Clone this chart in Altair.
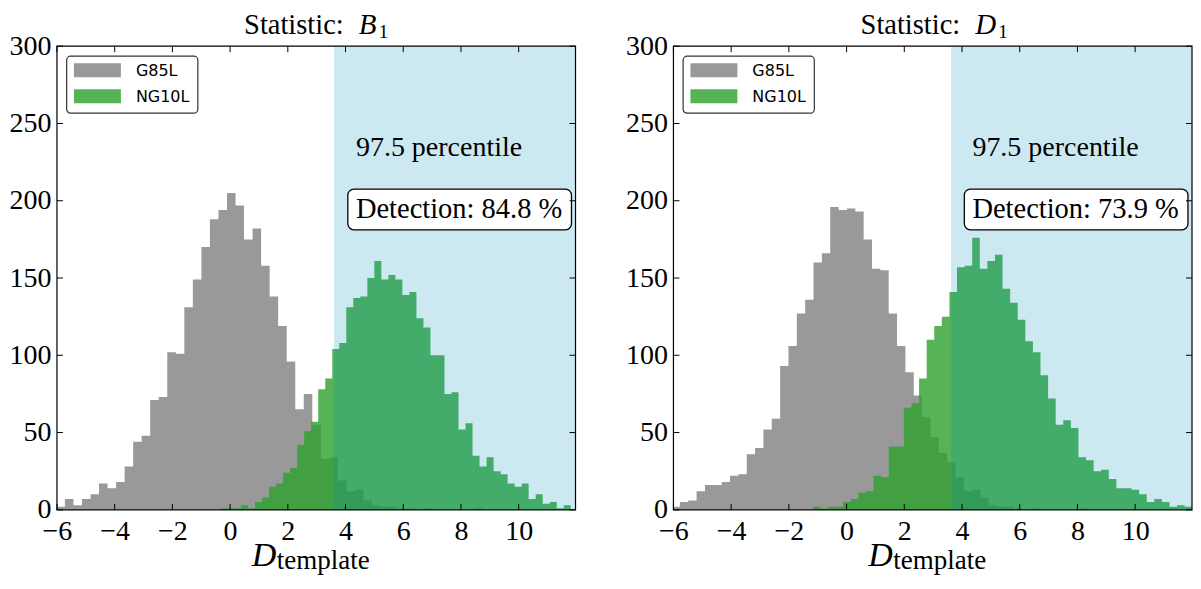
import altair as alt
import pandas as pd

# ---------------- data ----------------
series_names = ["G85L", "NG10L"]
panel_symbols = ["B", "D"]
detection_texts = ["Detection: 84.8 %", "Detection: 73.9 %"]
percentile_cuts = [3.60, 3.62]

# histogram counts, 50 bins each
g85l_B = [2, 7, 3, 7, 10, 17, 14, 18, 28, 44, 48, 71, 73, 102, 101, 131, 149, 170, 188, 194,
          205, 197, 175, 182, 158, 138, 119, 96, 65, 75, 55, 33, 34, 19, 12, 13, 6, 3, 2, 2,
          1, 1, 0, 1, 0, 0, 0, 0, 0, 1]
ng10l_B = [1, 1, 1, 3, 1, 5, 8, 15, 17, 24, 27, 42, 51, 57, 78, 85, 104, 108, 131, 137,
           138, 150, 161, 149, 152, 149, 139, 141, 124, 118, 100, 100, 75, 76, 52, 56, 35, 28, 34, 25,
           23, 17, 15, 17, 7, 10, 4, 5, 1, 3]
g85l_D = [2, 5, 6, 12, 16, 16, 18, 22, 23, 36, 40, 52, 59, 93, 106, 127, 136, 160, 166, 196,
          194, 195, 193, 175, 156, 155, 127, 106, 89, 74, 60, 47, 37, 31, 21, 12, 13, 8, 3, 2,
          2, 1, 0, 1, 0, 0, 0, 0, 0, 1]
ng10l_D = [2, 1, 2, 2, 5, 7, 11, 12, 22, 21, 41, 41, 66, 69, 85, 110, 119, 125, 141, 157,
           158, 176, 156, 161, 165, 143, 134, 123, 109, 102, 87, 72, 55, 58, 53, 34, 32, 25, 26, 20,
           14, 14, 13, 10, 5, 7, 5, 2, 3, 2]
# bin layout of each histogram: first edge, bin width
bins_g85l_B = (-6.02, 0.2956)
bins_ng10l_B = (-0.35, 0.2431)
bins_g85l_D = (-6.065, 0.2894)
bins_ng10l_D = (-1.17, 0.263)

x_ticks = [-6, -4, -2, 0, 2, 4, 6, 8, 10]
y_ticks = [0, 50, 100, 150, 200, 250, 300]

# ---------------- styling ----------------
W, H = 519, 464
XDOM = [-6.0, 11.97]
YDOM = [0, 300]
SERIF = "Liberation Serif"
SANS = "DejaVu Sans"
COLORS = {"G85L": "#808080", "NG10L": "#2ca02c"}
SPAN_COLOR = "#0091be"
SUB_X = {"B": 322, "D": 325}

xscale = alt.Scale(domain=XDOM, nice=False, zero=False)
yscale = alt.Scale(domain=YDOM, nice=False, zero=False)
xaxis = alt.Axis(values=x_ticks, title=None, ticks=False, domain=False, grid=False,
                 labelFont=SERIF, labelFontSize=28, labelPadding=8, labelColor="black",
                 labelFlush=False, labelOverlap=False)
yaxis = alt.Axis(values=y_ticks, title=None, ticks=False, domain=False, grid=False,
                 labelFont=SERIF, labelFontSize=28, labelPadding=6, labelColor="black",
                 labelFlush=False, labelOverlap=False)

one = pd.DataFrame({"k": [0]})


def hist_frame(counts, layout, name):
    first, width = layout
    edges = [first + i * width for i in range(len(counts) + 1)]
    return pd.DataFrame({"edge": edges, "count": list(counts) + [counts[-1]], "series": name})


def step_area(df, name):
    return alt.Chart(df).mark_area(interpolate="step-after", clip=True, opacity=0.8,
                                   color=COLORS[name]).encode(
        x=alt.X("edge:Q", scale=xscale, axis=xaxis),
        y=alt.Y("count:Q", scale=yscale, axis=yaxis),
    )


def label(text, x, y, size, align="left", style="normal", font=SERIF):
    return alt.Chart(one).mark_text(text=text, font=font, fontSize=size, align=align,
                                    baseline="alphabetic", fontStyle=style, color="black").encode(
        x=alt.value(x), y=alt.value(y))


def panel(gray, gray_bins, green, green_bins, symbol, det_text, cut):
    layers = []
    layers.append(step_area(hist_frame(gray, gray_bins, "G85L"), "G85L"))
    layers.append(step_area(hist_frame(green, green_bins, "NG10L"), "NG10L"))

    span = pd.DataFrame({"lo": [cut], "hi": [XDOM[1]]})
    layers.append(alt.Chart(span).mark_rect(color=SPAN_COLOR, opacity=0.2).encode(
        x=alt.X("lo:Q", scale=xscale, axis=xaxis), x2="hi:Q",
        y=alt.value(0), y2=alt.value(H)))

    # annotations in data coordinates
    txt = pd.DataFrame({"x": [4.36], "y": [229.0], "t": ["97.5 percentile"]})
    layers.append(alt.Chart(txt).mark_text(font=SERIF, fontSize=28, align="left",
                                           baseline="alphabetic", color="black").encode(
        x=alt.X("x:Q", scale=xscale, axis=xaxis), y=alt.Y("y:Q", scale=yscale, axis=yaxis), text="t:N"))
    box = pd.DataFrame({"x0": [4.08], "x1": [11.83], "y0": [181.2], "y1": [207.5]})
    layers.append(alt.Chart(box).mark_rect(fill="white", stroke="black", strokeWidth=1.3,
                                           cornerRadius=6).encode(
        x=alt.X("x0:Q", scale=xscale, axis=xaxis), x2="x1:Q",
        y=alt.Y("y0:Q", scale=yscale, axis=yaxis), y2="y1:Q"))
    det = pd.DataFrame({"x": [4.36], "y": [188.7], "t": [det_text]})
    layers.append(alt.Chart(det).mark_text(font=SERIF, fontSize=28.5, align="left",
                                           baseline="alphabetic", color="black").encode(
        x=alt.X("x:Q", scale=xscale, axis=xaxis), y=alt.Y("y:Q", scale=yscale, axis=yaxis), text="t:N"))

    # inward ticks on all four sides
    xt = pd.DataFrame({"t": x_ticks})
    yt = pd.DataFrame({"t": y_ticks})
    for y0, y1 in [(H - 6, H), (0, 6)]:
        layers.append(alt.Chart(xt).mark_rule(color="black", strokeWidth=1).encode(
            x=alt.X("t:Q", scale=xscale, axis=xaxis), y=alt.value(y0), y2=alt.value(y1)))
    for x0, x1 in [(0, 6), (W - 6, W)]:
        layers.append(alt.Chart(yt).mark_rule(color="black", strokeWidth=1).encode(
            y=alt.Y("t:Q", scale=yscale, axis=yaxis), x=alt.value(x0), x2=alt.value(x1)))

    # frame
    layers.append(alt.Chart(one).mark_rect(fill="transparent", stroke="black", strokeWidth=1.2).encode(
        x=alt.value(0), x2=alt.value(W), y=alt.value(0), y2=alt.value(H)))

    # legend
    layers.append(alt.Chart(one).mark_rect(fill="white", stroke="#333333", strokeWidth=1.2,
                                           cornerRadius=4).encode(
        x=alt.value(9.7), x2=alt.value(141), y=alt.value(10), y2=alt.value(67)))
    for i, name in enumerate(series_names):
        top = 17 + 26 * i
        layers.append(alt.Chart(one).mark_rect(color=COLORS[name], opacity=0.8).encode(
            x=alt.value(17), x2=alt.value(64), y=alt.value(top), y2=alt.value(top + 14)))
        layers.append(label(name, 79, top + 13, 16, font=SANS))

    # title: "Statistic: X_1"
    layers.append(label("Statistic:", 287, -12, 28.5, align="right"))
    layers.append(label(symbol, 302, -12, 29, style="italic"))
    layers.append(label("1", SUB_X[symbol], -8.5, 19))

    # x axis title: D_template
    layers.append(label("D", 195, 520.5, 34, style="italic"))
    layers.append(label("template", 220, 523, 27))

    return alt.layer(*layers).properties(width=W, height=H)


left = panel(g85l_B, bins_g85l_B, ng10l_B, bins_ng10l_B, panel_symbols[0], detection_texts[0], percentile_cuts[0])
right = panel(g85l_D, bins_g85l_D, ng10l_D, bins_ng10l_D, panel_symbols[1], detection_texts[1], percentile_cuts[1])

chart = alt.hconcat(left, right, spacing=49).properties(
    padding={"left": 1, "top": 3, "right": 0, "bottom": 1}
).configure_view(strokeWidth=0)

chart.save("out.html", embed_options={"renderer": "svg", "actions": False})
